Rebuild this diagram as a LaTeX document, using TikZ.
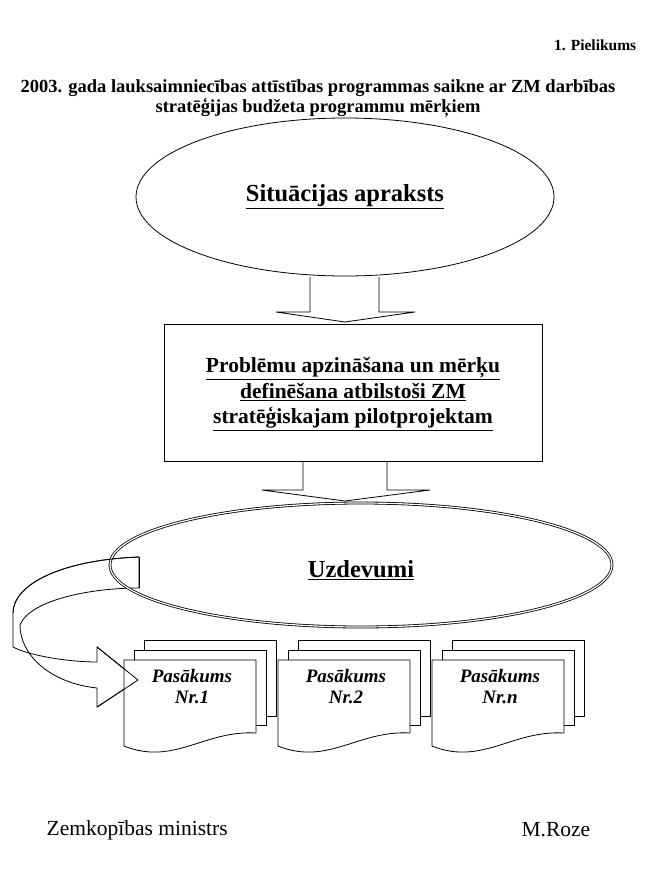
\documentclass[tikz,border=0pt]{standalone}
\usepackage{fontspec}
\setmainfont{Liberation Serif}
\usetikzlibrary{shapes.geometric}
\begin{document}
\begin{tikzpicture}[x=1pt,y=-1pt,line width=0.8pt,
  bt/.style={font=\bfseries\fontsize{24.5}{25.5}\selectfont,align=center},
  bx/.style={font=\bfseries\fontsize{21.5}{25.5}\selectfont,align=center},
  pt/.style={font=\bfseries\itshape\fontsize{19}{21}\selectfont,align=center}]
\useasboundingbox (0,0) rectangle (650,873);
\node[font=\bfseries\fontsize{15.5}{16}\selectfont,anchor=east] (pk) at (640,45) {1. \textsc{Pielikums}};
\node[font=\bfseries\fontsize{18.5}{20}\selectfont,align=center] (title) at (318,98) {2003. gada lauksaimniecības attīstības programmas saikne ar ZM darbības\\stratēģijas budžeta programmu mērķiem};
% top ellipse
\node[draw,ellipse,minimum width=418pt,minimum height=158pt] (sit) at (345,197) {};
\node[bt] (sitt) at (345,197) {\underline{Situācijas apraksts}};
% arrow 1
\draw (310,277) -- (310,312) -- (276,312) -- (345,322) -- (415,312) -- (379,312) -- (379,277);
% box
\draw (164,324) rectangle (542,461);
\node[bx] (prob) at (353,394) {\underline{Problēmu apzināšana un mērķu}\\\underline{definēšana atbilstoši ZM}\\\underline{stratēģiskajam pilotprojektam}};
% arrow 2
\draw (303,461) -- (303,490) -- (262,490) -- (345,501) -- (430,490) -- (387,490) -- (387,461);
% curved arrow
\draw[fill=white] (139,557) .. controls (60,560) and (13,585) .. (13,613) -- (13,647)
  .. controls (30,656) and (70,662) .. (97,662) -- (97,647) -- (138,680) -- (97,707) -- (97,688)
  .. controls (50,683) and (20,655) .. (20,625) .. controls (30,600) and (90,588) .. (139,588) -- cycle;
% Uzdevumi ellipse (double line)
\node[draw,ellipse,double,double distance=1.2pt,minimum width=502pt,minimum height=124pt] (uzd) at (361,565) {};
\draw (139,557) -- (139,588);
\node[bt] (uzdt) at (361,570) {\underline{Uzdevumi}};
% documents
\foreach \i/\x/\t in {1/124/Nr.1,2/278/Nr.2,3/432/Nr.n}{
  \foreach \d/\b in {20/716,10/725}{
    \draw[fill=white] (\x+\d,660-\d) -- (\x+\d+132,660-\d) -- (\x+\d+132,\b) -- (\x+\d,\b) -- cycle;
  }
  \draw[fill=white] (\x,660) -- (\x+132,660) -- (\x+132,733)
    .. controls (\x+80,730) and (\x+50,766) .. (\x,746) -- cycle;
  \node[pt] (doc\i) at (\x+68,687) {Pasākums\\\t};
}
\draw (139,557) .. controls (60,560) and (13,585) .. (13,613);
\draw (97,647) -- (138,680) -- (97,707);
\node[font=\fontsize{21.5}{22}\selectfont,anchor=west] (min) at (43,830) {Zemkopības ministrs};
\node[font=\fontsize{21.5}{22}\selectfont,anchor=east] (roze) at (594,830) {M.Roze};
\end{tikzpicture}
\end{document}
